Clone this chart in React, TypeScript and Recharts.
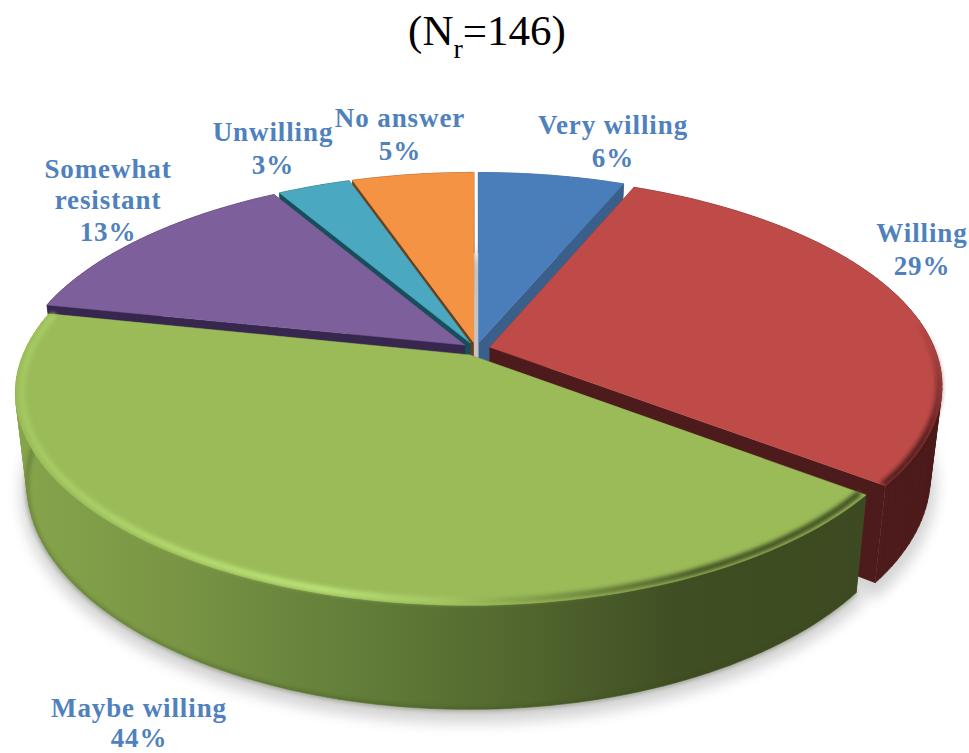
import { PieChart, Pie } from "recharts";

const names = ["Very willing", "Willing", "Maybe willing", "Somewhat resistant", "Unwilling", "No answer"];
const values = [6, 29, 44, 13, 3, 5];
const topColors = ["#4a7ebb", "#be4b48", "#9bbb59", "#7d5f9b", "#4aa8c0", "#f39343"];
const cutColors = ["#3a5f8b", "#4d1b1b", "#3d4a21", "#37264d", "#174e5c", "#6b3f1a"];
const data = names.map((name, i) => ({ name, value: values[i], top: topColors[i], cut: cutColors[i] }));

// back slices first so the front ones hide their cut walls
const paintOrder = ["No answer", "Unwilling", "Somewhat resistant", "Very willing", "Willing", "Maybe willing"];

// label anchor x and the baseline of each text row
const labelAnchors: Record<string, { x: number; rows: number[] }> = {
  "Very willing": { x: 613, rows: [134, 167] },
  Willing: { x: 922, rows: [242, 275] },
  "Maybe willing": { x: 139, rows: [717, 747] },
  "Somewhat resistant": { x: 108, rows: [178, 209, 241] },
  Unwilling: { x: 273, rows: [141, 174] },
  "No answer": { x: 400, rows: [127, 160] },
};

const KX = 0.14;
const KY = 0.18;
const SQUASH = 0.453;
const DEPTH = 90;
const BASE_SHRINK = 0.975;
const EXPLODE = 0.032;
const BOW = 8;

type P = [number, number];

function makeProjector(p: any) {
  const mid = ((90 - p.startAngle + (90 - p.endAngle)) / 2) * (Math.PI / 180);
  const ox = EXPLODE * Math.sin(mid);
  const oy = EXPLODE * Math.cos(mid);
  return (cw: number, r: number, low: boolean): P => {
    const a = (cw * Math.PI) / 180;
    const wx = r * Math.sin(a) + ox;
    const wy = r * Math.cos(a) + oy;
    const fx = 1 / (1 + KX * wy);
    const fy = 1 / (1 + KY * wy);
    const s = low ? BASE_SHRINK : 1;
    return [
      p.cx + p.outerRadius * wx * fx * s,
      p.cy - p.outerRadius * SQUASH * wy * fy * s + BOW * wx * wx + (low ? DEPTH * fy : 0),
    ];
  };
}

function arc(project: (cw: number, r: number, low: boolean) => P, from: number, to: number, r: number, low: boolean) {
  const pts: P[] = [];
  const n = Math.max(2, Math.ceil((to - from) / 1.5));
  for (let i = 0; i <= n; i++) pts.push(project(from + ((to - from) * i) / n, r, low));
  return pts;
}

const toPath = (pts: P[], close = true) =>
  "M" + pts.map((q) => q[0].toFixed(1) + " " + q[1].toFixed(1)).join("L") + (close ? "Z" : "");

const signedArea = (pts: P[]) =>
  pts.reduce((sum, q, i) => {
    const n = pts[(i + 1) % pts.length];
    return sum + q[0] * n[1] - n[0] * q[1];
  }, 0);

// outer wall as a strip of quads, all wound the same way so the overlaps at the silhouette stay filled
function wallStrip(rim: P[], base: P[]) {
  let d = "";
  for (let i = 0; i < rim.length - 1; i++) {
    const quad: P[] = [rim[i], rim[i + 1], base[i + 1], base[i]];
    d += toPath(signedArea(quad) < 0 ? quad.reverse() : quad);
  }
  return d;
}

function Slice(p: any) {
  const project = makeProjector(p);
  const from = 90 - p.startAngle;
  const to = 90 - p.endAngle;
  const rim = arc(project, from, to, 1, false);
  const base = arc(project, from, to, 1, true);
  const centerTop = project(0, 0, false);
  const centerLow = project(0, 0, true);
  const isGreen = p.name === "Maybe willing";
  const isRed = p.name === "Willing";
  const wallFill = isGreen ? "url(#greenWall)" : p.cut;
  return (
    <g>
      <path d={toPath([centerTop, rim[0], base[0], centerLow])} fill={p.cut} />
      <path d={toPath([centerTop, rim[rim.length - 1], base[base.length - 1], centerLow])} fill={p.cut} />
      <path d={wallStrip(rim, base)} fill={wallFill} stroke={wallFill} strokeWidth={0.6} />
      {isGreen && (
        <path d={toPath(base, false)} fill="none" stroke="#38481a" strokeWidth={2} opacity={0.7} filter="url(#soft)" />
      )}
      <path d={toPath([centerTop, ...rim])} fill={p.top} stroke={p.top} strokeWidth={0.5} strokeLinejoin="round" />
      {isGreen && (
        <path
          d={toPath(arc(project, from, to, 0.986, false), false)}
          fill="none"
          stroke="url(#greenBevel)"
          strokeWidth={6}
          filter="url(#soft)"
        />
      )}
      {isRed && (
        <path
          d={toPath(arc(project, from, to, 0.994, false), false)}
          fill="none"
          stroke="url(#redBevel)"
          strokeWidth={6}
          filter="url(#soft)"
        />
      )}
    </g>
  );
}

function SliceShadow(p: any) {
  const project = makeProjector(p);
  const base = arc(project, 90 - p.startAngle, 90 - p.endAngle, 1, true).map((q): P => [q[0], q[1] + 8]);
  const c = project(0, 0, true);
  return (
    <path d={toPath([c, ...base])} fill="#000" stroke="#000" strokeWidth={12} opacity={0.17} filter="url(#shadowBlur)" />
  );
}

function renderLabel(p: any) {
  const at = labelAnchors[p.name];
  const words = p.name === "Somewhat resistant" ? ["Somewhat", "resistant"] : [p.name];
  const rows = [...words, `${p.value}%`];
  return (
    <text
      key={p.name}
      textAnchor="middle"
      fontFamily="'Liberation Serif', serif"
      fontWeight="bold"
      fontSize={27}
      letterSpacing={0.9}
      fill="#4f81bd"
    >
      {rows.map((row, i) => (
        <tspan key={row} x={at.x} y={at.rows[i]}>
          {row}
        </tspan>
      ))}
    </text>
  );
}

export default function App() {
  const common = {
    data,
    dataKey: "value",
    nameKey: "name",
    cx: 476,
    cy: 349,
    outerRadius: 448,
    startAngle: 90,
    endAngle: -270,
    stroke: "none",
    isAnimationActive: false,
  };
  return (
    <div style={{ position: "absolute", left: 0, top: 0, width: 969, height: 753, background: "#fff", overflow: "hidden" }}>
      <div
        style={{
          position: "absolute",
          left: 0,
          width: 974,
          top: 6,
          textAlign: "center",
          fontFamily: "'Liberation Serif', serif",
          fontSize: 43,
          lineHeight: "50px",
          color: "#000",
        }}
      >
        (N<span style={{ fontSize: 28, position: "relative", top: 13 }}>r</span>=146)
      </div>
      <div style={{ position: "absolute", left: 0, top: 0 }}>
        <PieChart width={969} height={753} margin={{ top: 0, right: 0, bottom: 0, left: 0 }}>
          <defs>
            <linearGradient id="greenWall" gradientUnits="userSpaceOnUse" x1={13} y1={0} x2={872} y2={0}>
              <stop offset="0%" stopColor="#87a54c" />
              <stop offset="18%" stopColor="#7a9645" />
              <stop offset="38%" stopColor="#64803a" />
              <stop offset="58%" stopColor="#53682f" />
              <stop offset="78%" stopColor="#3f4e23" />
              <stop offset="100%" stopColor="#3d4a21" />
            </linearGradient>
            <linearGradient id="greenBevel" gradientUnits="userSpaceOnUse" x1={13} y1={0} x2={872} y2={0}>
              <stop offset="0%" stopColor="#a4c862" />
              <stop offset="20%" stopColor="#b4dc70" />
              <stop offset="36%" stopColor="#bde67a" />
              <stop offset="50%" stopColor="#a4c862" />
              <stop offset="62%" stopColor="#7a9644" />
              <stop offset="80%" stopColor="#3f4e23" />
              <stop offset="100%" stopColor="#3d4a21" />
            </linearGradient>
            <linearGradient id="redBevel" gradientUnits="userSpaceOnUse" x1={0} y1={320} x2={0} y2={440}>
              <stop offset="0%" stopColor="#4d1b1b" stopOpacity={0} />
              <stop offset="100%" stopColor="#4d1b1b" stopOpacity={1} />
            </linearGradient>
            <filter id="soft" x="-5%" y="-5%" width="110%" height="110%">
              <feGaussianBlur stdDeviation={2} />
            </filter>
            <filter id="shadowBlur" x="-15%" y="-15%" width="130%" height="130%">
              <feGaussianBlur stdDeviation={7} />
            </filter>
          </defs>
          <Pie key="shadow" {...common} shape={(p: any) => <SliceShadow {...p} />} />
          {paintOrder.map((target, i) => (
            <Pie
              key={target}
              {...common}
              shape={(p: any) => (p.name === target ? <Slice {...p} /> : <g />)}
              label={i === paintOrder.length - 1 ? renderLabel : false}
              labelLine={false}
            />
          ))}
        </PieChart>
      </div>
    </div>
  );
}
